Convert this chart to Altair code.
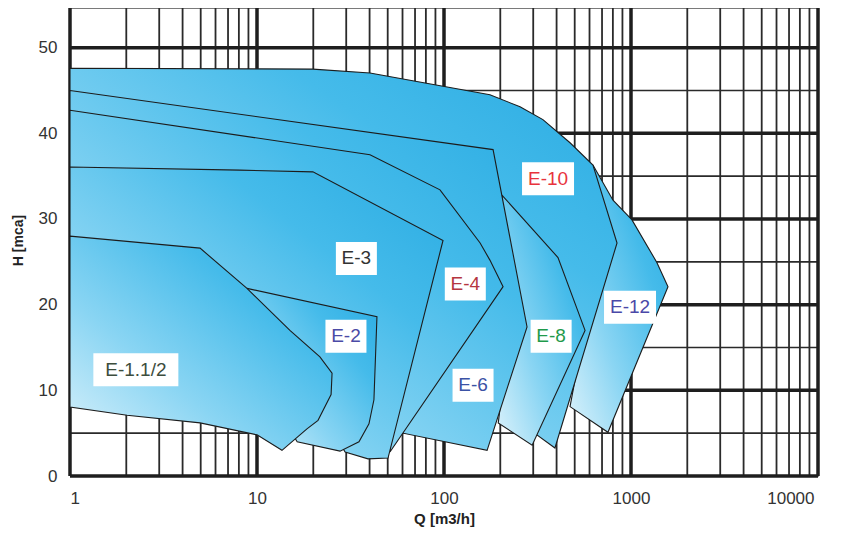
import altair as alt
import pandas as pd

# ---- pump operating areas (Q in m3/h, H in mca), listed back to front ----
e12_q = [626, 801, 1012, 1377, 1577, 753, 472, 604, 568]
e12_h = [36.3, 32.2, 29.9, 24.9, 22.1, 5.1, 8.1, 20.5, 32.2]

e10_q = [1, 19.9, 40.2, 98.8, 176, 255, 338, 472, 626, 842, 392, 314, 240, 108, 17.0, 1]
e10_h = [47.6, 47.5, 47.05, 45.5, 44.5, 43.1, 41.6, 38.9, 36.3, 27.2, 3.27, 4.79, 8.9, 14.7, 22.9, 20.5]

e8_q = [204, 407, 568, 296, 195, 225]
e8_h = [32.8, 25.5, 17.0, 3.6, 6.2, 17.0]

e6_q = [1, 183, 278, 170, 60.4, 74.4, 17.0, 1]
e6_h = [45.0, 38.1, 17.4, 3.0, 5.0, 14.7, 25.2, 32.2]

e4_q = [1, 40.2, 95.2, 156, 176, 207, 51.4, 58.2, 17.0, 1]
e4_h = [42.7, 37.5, 33.4, 27.2, 25.2, 22.1, 2.8, 14.7, 26.4, 32.2]

e3_q = [1, 8.11, 19.9, 98.8, 50.2, 39.2, 29.6, 17.0, 1]
e3_h = [36.07, 35.7, 35.5, 27.5, 2.1, 2.0, 2.8, 11.2, 20.5]

e2_q = [8.84, 43.8, 42.2, 39.7, 35.1, 27.8, 16.4, 10.4]
e2_h = [21.9, 18.6, 8.9, 6.1, 4.0, 2.9, 4.0, 11.2]

e15_q = [1, 4.96, 8.84, 15.0, 21.7, 25.2, 24.9, 21.2, 18.5, 13.6, 10.0, 4.96, 2.02, 1]
e15_h = [28.0, 26.6, 21.9, 17.0, 13.9, 12.0, 9.5, 6.5, 5.5, 3.0, 4.8, 6.2, 7.1, 8.06]

areas = [
    ("E-12", e12_q, e12_h),
    ("E-10", e10_q, e10_h),
    ("E-8", e8_q, e8_h),
    ("E-6", e6_q, e6_h),
    ("E-4", e4_q, e4_h),
    ("E-3", e3_q, e3_h),
    ("E-2", e2_q, e2_h),
    ("E-1.1/2", e15_q, e15_h),
]

# ---- area labels ----
labels = ["E-10", "E-3", "E-4", "E-2", "E-6", "E-8", "E-12", "E-1.1/2"]
label_q = [360, 34.0, 130, 29.9, 143, 374, 988, 2.25]
label_h = [34.7, 25.4, 22.4, 16.3, 10.6, 16.3, 19.7, 12.4]
label_colors = ["#e8333d", "#333333", "#b5363f", "#4b4aa6", "#3a52a5", "#1f9a4b", "#4a48a8", "#3d4d3d"]

# ---- grid values ----
grid_x_major = [1, 10, 100, 1000, 10000]
grid_x_minor = [m * d for d in [1, 10, 100, 1000] for m in range(2, 10)]
grid_y_major = [0, 10, 20, 30, 40, 50]
grid_y_minor = [5, 15, 25, 35, 45]
x_ticks = [1, 10, 100, 1000, 10000]
y_ticks = [0, 10, 20, 30, 40, 50]

xs = alt.Scale(type="log", domain=[1, 10000], nice=False)
ys = alt.Scale(domain=[0, 54.63], nice=False, zero=False)

x_axis = alt.Axis(values=x_ticks, format="d", grid=False, labelPadding=14,
                  labelOffset={"condition": {"test": "datum.value >= 10000", "value": -4}, "value": 0},
                  title="Q [m3/h]", titleY=42, titleBaseline="middle")
y_axis = alt.Axis(values=y_ticks, format="d", grid=False, labelPadding=13,
                  title="H [mca]", titleX=-52, titleY=232, titleAngle=270,
                  titleBaseline="middle", titleAlign="center")


def X(field="q"):
    return alt.X(f"{field}:Q", scale=xs, axis=x_axis)


def Y(field="h"):
    return alt.Y(f"{field}:Q", scale=ys, axis=y_axis)


layers = []
layers.append(
    alt.Chart(pd.DataFrame({"q": grid_x_minor})).mark_rule(color="#2a2a2a", strokeWidth=1.8)
    .encode(x=X())
)
layers.append(
    alt.Chart(pd.DataFrame({"h": grid_y_minor})).mark_rule(color="#2a2a2a", strokeWidth=1.6)
    .encode(y=Y())
)
layers.append(
    alt.Chart(pd.DataFrame({"q": grid_x_major})).mark_rule(color="#1e1e1e", strokeWidth=3.5)
    .encode(x=X())
)
layers.append(
    alt.Chart(pd.DataFrame({"h": grid_y_major})).mark_rule(color="#1e1e1e", strokeWidth=3.5)
    .encode(y=Y())
)

grad = alt.LinearGradient(
    gradient="linear",
    stops=[
        alt.GradientStop(color="#dcf2fb", offset=0),
        alt.GradientStop(color="#8ad5f3", offset=0.35),
        alt.GradientStop(color="#45bbea", offset=0.7),
        alt.GradientStop(color="#29abe2", offset=1),
    ],
    x1=0, y1=1, x2=1, y2=0,
)

for name, qs, hs in areas:
    q_closed = list(qs) + [qs[0]]
    h_closed = list(hs) + [hs[0]]
    df = pd.DataFrame({"q": q_closed, "h": h_closed, "i": list(range(len(q_closed)))})
    layers.append(
        alt.Chart(df).mark_line(fill=grad, stroke="#1c1c1c", strokeWidth=1.1)
        .encode(x=X(), y=Y(), order=alt.Order("i:Q"))
    )

lab_df = pd.DataFrame({"label": labels, "q": label_q, "h": label_h})
for k, lab in enumerate(labels):
    w = 11 * len(lab) + 8
    layers.append(
        alt.Chart(lab_df.iloc[[k]]).mark_rect(width=w, height=33, fill="white")
        .encode(x=X(), y=Y())
    )

layers.append(
    alt.Chart(lab_df).mark_text(fontSize=19, font="Liberation Sans")
    .encode(
        x=X(), y=Y(),
        text="label:N",
        color=alt.Color("label:N", scale=alt.Scale(domain=labels, range=label_colors), legend=None),
    )
)

chart = (
    alt.layer(*layers)
    .properties(
        width=748, height=468,
        autosize=alt.AutoSizeParams(type="none"),
        padding={"left": 62, "top": 0, "right": 21, "bottom": 51},
        background="white",
    )
    .configure_view(stroke="#7a7a7a", strokeWidth=1)
    .configure_axis(
        domain=False, ticks=False, tickSize=0,
        labelFont="Liberation Sans", labelFontSize=17, labelColor="#333333",
        titleFont="Liberation Sans", titleFontWeight="bold", titleFontSize=15, titleColor="#222222",
    )
    .configure_axisLeft(titleFontSize=14)
)

chart.save("out.html", embed_options={"renderer": "svg", "actions": False})
